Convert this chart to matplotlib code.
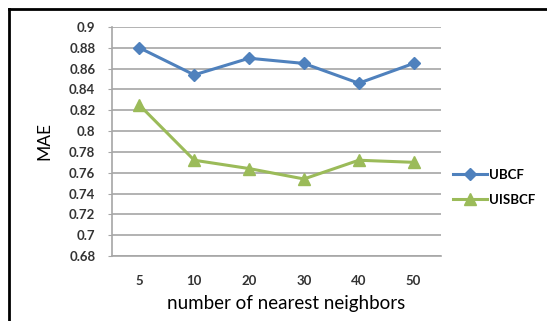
import matplotlib.pyplot as plt
from matplotlib.lines import Line2D

neighbors = ['5', '10', '20', '30', '40', '50']
ubcf = [0.880, 0.854, 0.870, 0.865, 0.846, 0.865]
uisbcf = [0.825, 0.772, 0.764, 0.754, 0.772, 0.770]
yticks = [0.68, 0.7, 0.72, 0.74, 0.76, 0.78, 0.8, 0.82, 0.84, 0.86, 0.88, 0.9]
ytick_labels = ['0.68', '0.7', '0.72', '0.74', '0.76', '0.78', '0.8', '0.82', '0.84', '0.86', '0.88', '0.9']

plt.rcParams['font.family'] = ['Lato', 'DejaVu Sans']

fig = plt.figure(figsize=(5.47, 3.21), dpi=100)
ax = fig.add_axes([112 / 547, 1 - 256 / 321, 329 / 547, 229 / 321])

x = range(len(neighbors))
ax.plot(x, ubcf, color='#4F81BD', lw=2.2, marker='D', ms=6, label='UBCF')
ax.plot(x, uisbcf, color='#9BBB59', lw=2.2, marker='^', ms=8, label='UISBCF')

ax.set_xlim(-0.5, len(neighbors) - 0.5)
ax.set_ylim(0.68, 0.9)
ax.set_yticks(yticks)
ax.set_yticklabels(ytick_labels)
ax.set_xticks(list(x))
ax.set_xticklabels(neighbors)
ax.grid(axis='y', color='#A6A6A6', lw=1.2)
ax.set_axisbelow(True)

for side in ['top', 'right']:
    ax.spines[side].set_visible(False)
ax.spines['left'].set_color('#A6A6A6')
ax.spines['bottom'].set_color('#A6A6A6')
ax.spines['left'].set_linewidth(1.2)
ax.spines['bottom'].set_linewidth(1.2)
ax.tick_params(axis='y', length=3, color='#A6A6A6', labelsize=9.5, pad=9, labelcolor='#333333')
ax.tick_params(axis='x', length=0, labelsize=9.5, pad=14, labelcolor='#333333')
for lbl in ax.get_xticklabels() + ax.get_yticklabels():
    lbl.set_fontweight('bold')

ax.set_ylabel('MAE', fontsize=12.5, labelpad=12)
ax.set_xlabel('number of nearest neighbors', fontsize=13.5)
ax.xaxis.set_label_coords(0.529, -0.17)

ax.legend(loc='center left', bbox_to_anchor=(1.0, 0.30), frameon=False,
          handlelength=2.6, handletextpad=0.1, labelspacing=1.0,
          prop={'weight': 'bold', 'size': 9.5})

# outer frame edges (top and left)
fig.add_artist(Line2D([9 / 547, 1], [1 - 9 / 321, 1 - 9 / 321], transform=fig.transFigure, color='black', lw=2))
fig.add_artist(Line2D([9 / 547, 9 / 547], [0, 1 - 9 / 321], transform=fig.transFigure, color='black', lw=2))

fig.savefig('out.png', dpi=100)
